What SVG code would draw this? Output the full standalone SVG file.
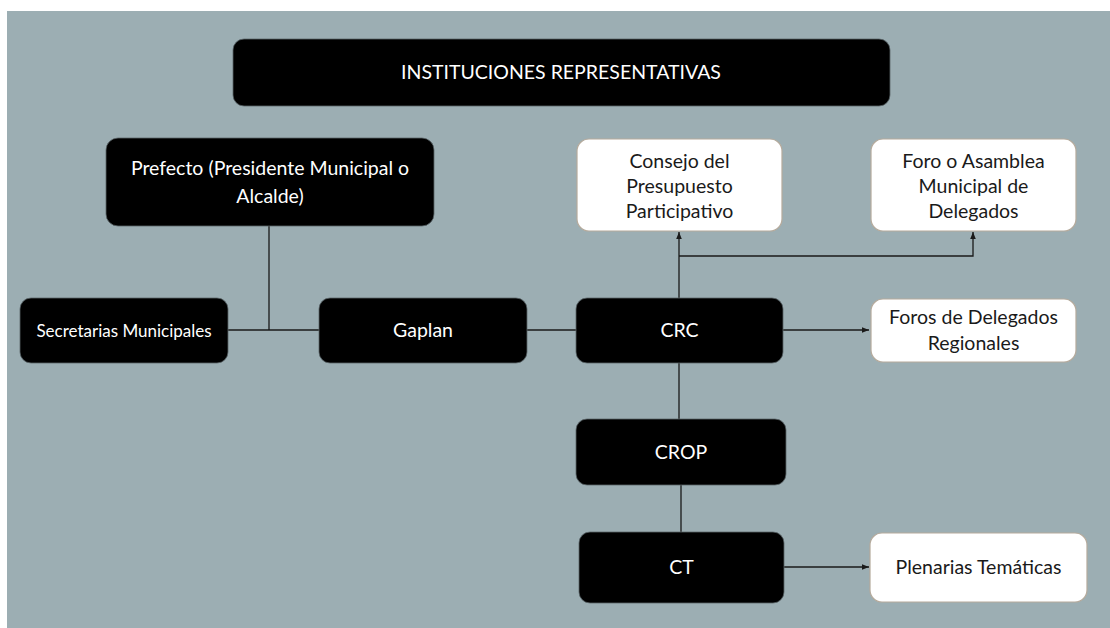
<svg xmlns="http://www.w3.org/2000/svg" width="1110" height="628" viewBox="0 0 1110 628">
<defs>
<style>
.dark{fill:#000;stroke:#5a6468;stroke-width:0.8}
.light{fill:#fff;stroke:#b5aa9c;stroke-width:1.2}
.tw{fill:#fff;font-family:Lato,"Open Sans",sans-serif;font-size:19.5px;text-anchor:middle}
.tb{fill:#1a1a1a;font-family:Lato,"Open Sans",sans-serif;font-size:19.5px;text-anchor:middle}
.ln{stroke:#1a1a1a;stroke-width:1.3;fill:none}
</style>
<marker id="ah" viewBox="0 0 10 10" refX="10" refY="5" markerWidth="7" markerHeight="7" orient="auto" markerUnits="userSpaceOnUse">
<path d="M0,1 L10,5 L0,9 z" fill="#1a1a1a"/>
</marker>
</defs>
<rect x="0" y="0" width="1110" height="628" fill="#fff"/>
<rect x="7" y="11" width="1103" height="617" fill="#9caeb3"/>
<g id="connectors">
<path class="ln" d="M269,226 V330"/>
<path class="ln" d="M228,330 H319"/>
<path class="ln" d="M527,330 H576"/>
<path class="ln" d="M679,298 V232" marker-end="url(#ah)"/>
<path class="ln" d="M679,256 H973 V232" marker-end="url(#ah)"/>
<path class="ln" d="M783,330 H869" marker-end="url(#ah)"/>
<path class="ln" d="M679,363 V419"/>
<path class="ln" d="M681,485 V532"/>
<path class="ln" d="M784,567 H869" marker-end="url(#ah)"/>
</g>
<g id="title"><rect class="dark" x="233" y="39" width="657" height="67" rx="11"/><text class="tw" x="561" y="79">INSTITUCIONES REPRESENTATIVAS</text></g>
<g id="prefecto"><rect class="dark" x="106" y="138" width="328" height="88" rx="12"/><text class="tw" x="270" y="175">Prefecto (Presidente Municipal o</text><text class="tw" x="270" y="203">Alcalde)</text></g>
<g id="secretarias"><rect class="dark" x="20" y="298" width="208" height="65" rx="11"/><text class="tw" x="124" y="336.5" style="font-size:17px">Secretarias Municipales</text></g>
<g id="gaplan"><rect class="dark" x="319" y="298" width="208" height="65" rx="11"/><text class="tw" x="423" y="337">Gaplan</text></g>
<g id="crc"><rect class="dark" x="576" y="298" width="207" height="65" rx="11"/><text class="tw" x="679.5" y="337">CRC</text></g>
<g id="consejo"><rect class="light" x="577" y="139" width="205" height="92" rx="12"/><text class="tb" x="679.5" y="168">Consejo del</text><text class="tb" x="679.5" y="193">Presupuesto</text><text class="tb" x="679.5" y="218">Participativo</text></g>
<g id="foro"><rect class="light" x="871" y="139" width="205" height="92" rx="12"/><text class="tb" x="973.5" y="168">Foro o Asamblea</text><text class="tb" x="973.5" y="193">Municipal de</text><text class="tb" x="973.5" y="218">Delegados</text></g>
<g id="foros"><rect class="light" x="871" y="299" width="205" height="63" rx="12"/><text class="tb" x="973.5" y="324">Foros de Delegados</text><text class="tb" x="973.5" y="350">Regionales</text></g>
<g id="crop"><rect class="dark" x="576" y="419" width="210" height="66" rx="11"/><text class="tw" x="681" y="459">CROP</text></g>
<g id="ct"><rect class="dark" x="579" y="532" width="205" height="71" rx="11"/><text class="tw" x="681.5" y="574">CT</text></g>
<g id="plenarias"><rect class="light" x="870" y="533" width="217" height="69" rx="12"/><text class="tb" x="978.5" y="574">Plenarias Temáticas</text></g>
</svg>
